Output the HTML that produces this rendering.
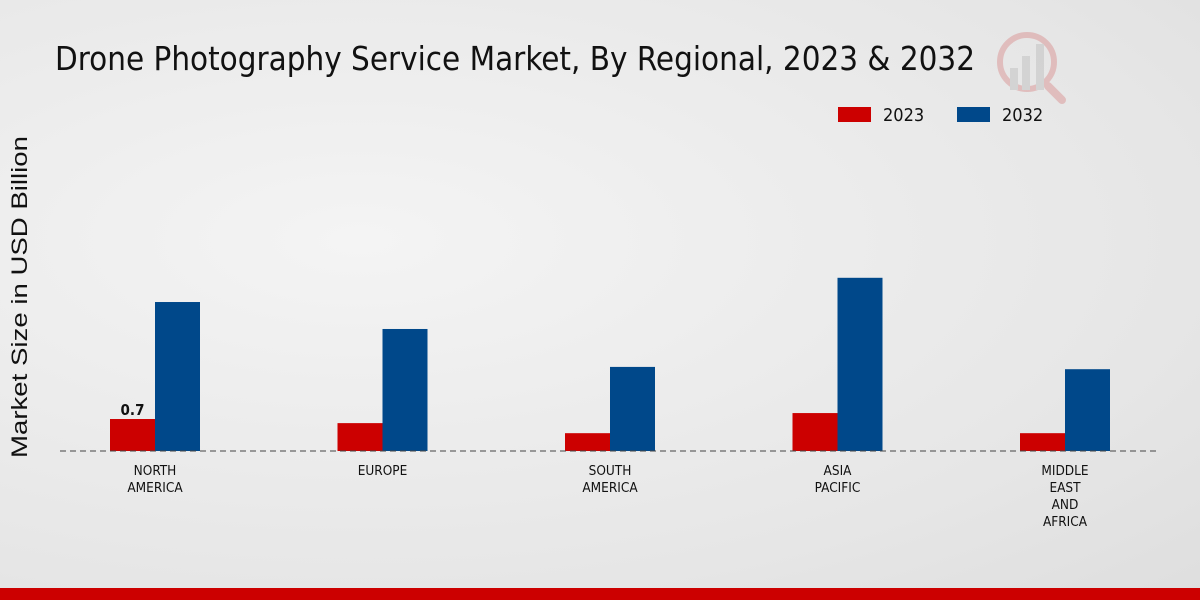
<!DOCTYPE html>
<html><head><meta charset="utf-8"><style>
html,body{margin:0;padding:0;width:1200px;height:600px;overflow:hidden}
body{background:radial-gradient(ellipse at 30% 40%,#f4f4f4 0%,#e6e6e6 70%,#dedede 100%);font-family:"Liberation Sans","DejaVu Sans",sans-serif}
.cond{font-family:"DejaVu Sans Condensed","DejaVu Sans",sans-serif;font-stretch:condensed}
</style></head><body>
<svg id="chart" width="1200" height="600" xmlns="http://www.w3.org/2000/svg" font-family="Liberation Sans, DejaVu Sans, sans-serif">
<text class="cond" x="55" y="70" font-size="33" fill="#111" textLength="920" lengthAdjust="spacingAndGlyphs">Drone Photography Service Market, By Regional, 2023 &amp; 2032</text>
<text transform="translate(27,297) rotate(-90)" text-anchor="middle" font-size="22" fill="#111" textLength="322" lengthAdjust="spacingAndGlyphs">Market Size in USD Billion</text>
<g>
<rect x="838" y="107" width="33" height="15" fill="#cc0000"/>
<text class="cond" x="883" y="121" font-size="18" fill="#111">2023</text>
<rect x="957" y="107" width="33" height="15" fill="#00488a"/>
<text class="cond" x="1002" y="121" font-size="18" fill="#111">2032</text>
</g>
<g opacity="0.25">
<circle cx="1027" cy="62" r="27" fill="none" stroke="#c44" stroke-width="6"/>
<rect x="1010" y="68" width="8" height="22" fill="#999"/><rect x="1022" y="56" width="8" height="34" fill="#999"/><rect x="1036" y="44" width="8" height="46" fill="#999"/>
<line x1="1048" y1="86" x2="1062" y2="100" stroke="#c44" stroke-width="8" stroke-linecap="round"/>
</g>
<g id="bars"></g>
<line x1="60" y1="451" x2="1160" y2="451" stroke="#444" stroke-width="1" stroke-dasharray="6,4"/>
<g id="labels"></g>
<rect x="0" y="588" width="1200" height="12" fill="#cc0000"/>
</svg>
<script>
const categories = [["NORTH","AMERICA"],["EUROPE"],["SOUTH","AMERICA"],["ASIA","PACIFIC"],["MIDDLE","EAST","AND","AFRICA"]];
const values2023 = [0.7, 0.61, 0.39, 0.83, 0.39];
const values2032 = [3.26, 2.67, 1.84, 3.79, 1.79];
const NS="http://www.w3.org/2000/svg";
const baseY=451, pxPerUnit=45.7, x0=155, step=227.5, bw=45;
const xScale=i=>x0+i*step;
const yScale=v=>baseY-v*pxPerUnit;
const bars=document.getElementById('bars'), labels=document.getElementById('labels');
categories.forEach((c,i)=>{
  const cx=xScale(i);
  [[values2023,'#cc0000',-bw,'2023'],[values2032,'#00488a',0,'2032']].forEach(([arr,col,off,yr])=>{
    const r=document.createElementNS(NS,'rect');
    
    
    r.setAttribute('x',cx+off);r.setAttribute('width',bw);
    r.setAttribute('y',yScale(arr[i]));r.setAttribute('height',baseY-yScale(arr[i]));
    r.setAttribute('fill',col);bars.appendChild(r);
  });
  c.forEach((line,j)=>{
    const t=document.createElementNS(NS,'text');
    
    
    t.setAttribute('class','cond');
    t.setAttribute('x',cx);t.setAttribute('y',475+j*17);
    t.setAttribute('text-anchor','middle');t.setAttribute('font-size','13.5');t.setAttribute('fill','#111');
    t.textContent=line;labels.appendChild(t);
  });
});
const v=document.createElementNS(NS,'text');


v.setAttribute('class','cond');
v.setAttribute('x',xScale(0)-bw/2);v.setAttribute('y',yScale(values2023[0])-4);
v.setAttribute('text-anchor','middle');v.setAttribute('font-size','15');v.setAttribute('font-weight','bold');v.setAttribute('fill','#111');
v.textContent=values2023[0];labels.appendChild(v);
</script>
</body></html>
